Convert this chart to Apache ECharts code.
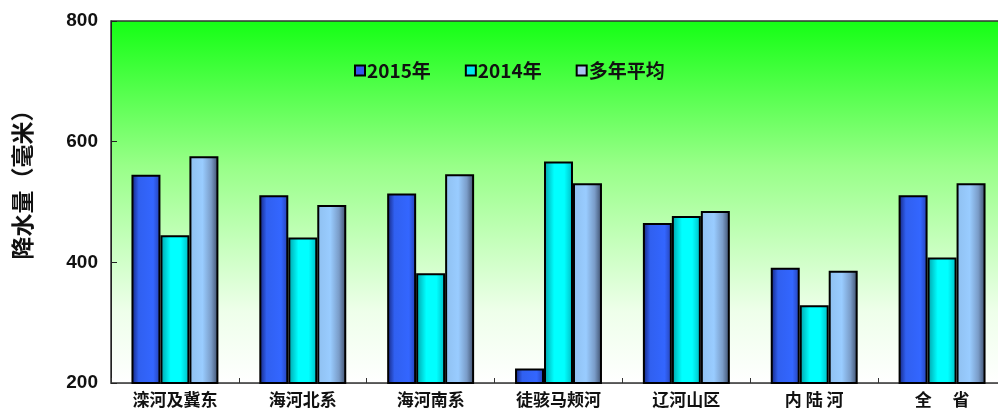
<!DOCTYPE html>
<html><head><meta charset="utf-8">
<script src="https://cdn.jsdelivr.net/npm/echarts@6/dist/echarts.min.js"></script>
<style>html,body{margin:0;padding:0;background:#fff}#c{width:998px;height:414px}</style>
</head><body><div id="c"></div>
<script>
const categories = ['滦河及冀东','海河北系','海河南系','徒骇马颊河','辽河山区','内 陆 河','全　 省'];
const seriesNames = ['2015年','2014年','多年平均'];
const v2015 = [545, 511, 514, 224, 465, 391, 511];
const v2014 = [445, 441, 382, 567, 477, 329, 408];
const vAvg  = [576, 495, 546, 531, 485, 386, 531];
const yTicks = {min:200, max:800, interval:200};

const G = echarts.graphic.LinearGradient;
const fills = [
  new G(0,0,1,0,[{offset:0,color:'#14237a'},{offset:0.25,color:'#3060f0'},{offset:0.75,color:'#3366ff'},{offset:1,color:'#2440b0'}]),
  new G(0,0,1,0,[{offset:0,color:'#00a0a8'},{offset:0.35,color:'#00ffff'},{offset:0.7,color:'#00ffff'},{offset:1,color:'#00b8c0'}]),
  new G(0,0,1,0,[{offset:0,color:'#8fc0f0'},{offset:0.45,color:'#99ccff'},{offset:0.75,color:'#7a9cc8'},{offset:1,color:'#3a4a66'}])
];
const legendColors = ['#3355ee','#00e8f0','#a8c4f0'];
const data = [v2015, v2014, vAvg];

const chart = echarts.init(document.getElementById('c'));
chart.setOption({
  animation:false,
  backgroundColor:'#ffffff',
  grid:{left:111, top:21, width:895, height:362, show:true, outerBoundsMode:'none', containLabel:false,
    backgroundColor:new G(0,0,0,1,[{offset:0,color:'#14ff14'},{offset:0.4,color:'#98ff88'},{offset:0.8,color:'#eeffea'},{offset:1,color:'#ffffff'}]),
    borderColor:'#333', borderWidth:1.5},
  legend:{top:56, left:349, itemWidth:10, itemHeight:10, itemGap:34, icon:'rect',
    textStyle:{fontFamily:'Noto Sans CJK SC', fontSize:19, fontWeight:'bold', color:'#111', padding:[0,0,0,-3]},
    data:seriesNames.map((n,i)=>({name:n, itemStyle:{color:legendColors[i], borderColor:'#000', borderWidth:2}}))},
  xAxis:{type:'category', data:categories,
    axisLine:{lineStyle:{color:'#555', width:1}},
    axisTick:{show:true, inside:true, length:5, lineStyle:{color:'#333'}},
    axisLabel:{fontFamily:'Noto Sans CJK SC', fontSize:17, fontWeight:'bold', color:'#111', margin:8}},
  yAxis:{type:'value', min:yTicks.min, max:yTicks.max, interval:yTicks.interval,
    name:'降水量（毫米）', nameLocation:'middle', nameRotate:90, nameGap:77,
    nameTextStyle:{fontFamily:'Noto Sans CJK SC', fontSize:23, fontWeight:'bold', color:'#111', padding:[0,0,0,46]},
    axisLine:{show:true, lineStyle:{color:'#222'}},
    axisTick:{show:true, inside:true, length:6, lineStyle:{color:'#222'}},
    splitLine:{show:false},
    axisLabel:{fontFamily:'Liberation Sans', fontSize:19, fontWeight:'bold', color:'#111', margin:13}},
  series:seriesNames.map((n,i)=>({name:n, type:'bar', data:data[i], barGap:'0%', barCategoryGap:'32%',
    itemStyle:{color:fills[i], borderColor:'#000', borderWidth:2}}))
});
</script></body></html>
